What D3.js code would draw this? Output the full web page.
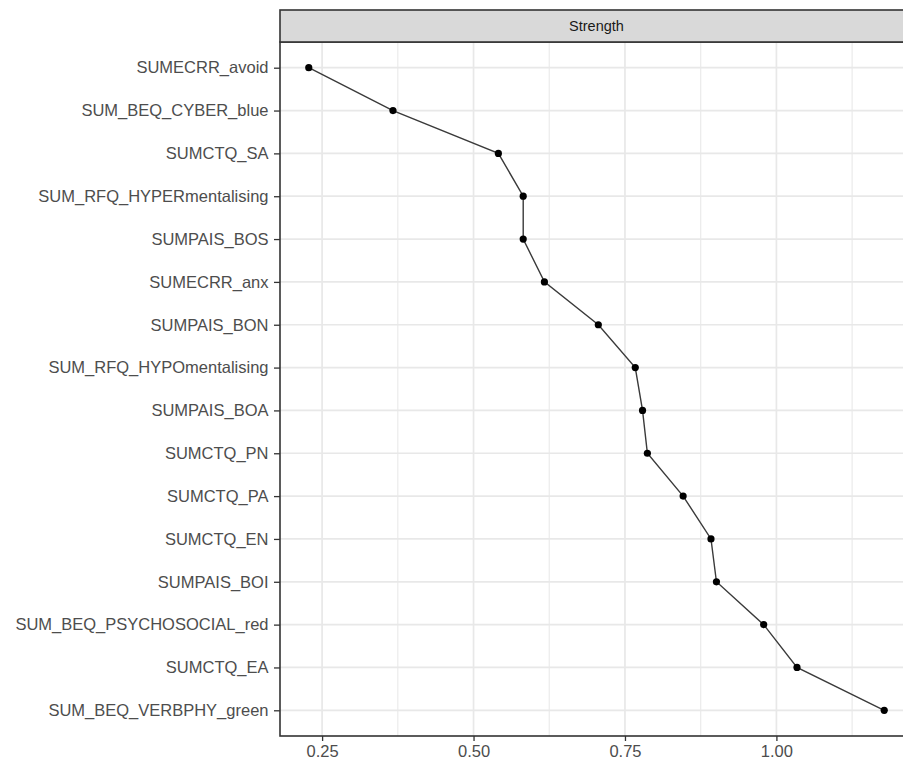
<!DOCTYPE html>
<html><head><meta charset="utf-8">
<script src="https://cdn.jsdelivr.net/npm/d3@7"></script>
<style>body{margin:0;background:#fff;} text{font-family:"Liberation Sans",Arial,sans-serif;}</style>
</head><body>
<svg id="chart" width="903" height="763"></svg>
<script>
const categories = ["SUMECRR_avoid","SUM_BEQ_CYBER_blue","SUMCTQ_SA","SUM_RFQ_HYPERmentalising","SUMPAIS_BOS","SUMECRR_anx","SUMPAIS_BON","SUM_RFQ_HYPOmentalising","SUMPAIS_BOA","SUMCTQ_PN","SUMCTQ_PA","SUMCTQ_EN","SUMPAIS_BOI","SUM_BEQ_PSYCHOSOCIAL_red","SUMCTQ_EA","SUM_BEQ_VERBPHY_green"];
const strength = [0.228,0.367,0.541,0.582,0.582,0.617,0.706,0.767,0.779,0.787,0.846,0.892,0.901,0.979,1.034,1.178];
const xTicks = [0.25,0.50,0.75,1.00];
const xMinor = [0.375,0.625,0.875,1.125];
const stripLabel = "Strength";

const svg = d3.select("#chart");
const L = 280, R = 913, T = 42, B = 736, stripTop = 10;
const ext = d3.extent(strength), pad = (ext[1]-ext[0])*0.05;
const x = d3.scaleLinear().domain([ext[0]-pad, ext[1]+pad]).range([L, R]);
const y = d3.scalePoint().domain(categories).range([T, B]).padding(0.6);

svg.append("rect").attr("x",L).attr("y",T).attr("width",R-L).attr("height",B-T).attr("fill","#fff");
svg.append("g").selectAll("line").data(xMinor).join("line")
  .attr("x1",d=>x(d)).attr("x2",d=>x(d)).attr("y1",T).attr("y2",B)
  .attr("stroke","#EBEBEB").attr("stroke-width",1.2);
svg.append("g").selectAll("line").data(xTicks).join("line")
  .attr("x1",d=>x(d)).attr("x2",d=>x(d)).attr("y1",T).attr("y2",B)
  .attr("stroke","#E8E8E8").attr("stroke-width",1.7);
svg.append("g").selectAll("line").data(categories).join("line")
  .attr("x1",L).attr("x2",R).attr("y1",d=>y(d)).attr("y2",d=>y(d))
  .attr("stroke","#E8E8E8").attr("stroke-width",1.7);

const pts = categories.map((c,i)=>({c, v: strength[i]}));
svg.append("path").datum(pts)
  .attr("d", d3.line().x(d=>x(d.v)).y(d=>y(d.c)))
  .attr("fill","none").attr("stroke","#3a3a3a").attr("stroke-width",1.4);
svg.append("g").selectAll("circle").data(pts).join("circle")
  .attr("cx",d=>x(d.v)).attr("cy",d=>y(d.c)).attr("r",3.6).attr("fill","#000");

svg.append("rect").attr("x",L).attr("y",T).attr("width",R-L).attr("height",B-T)
  .attr("fill","none").attr("stroke","#333").attr("stroke-width",1.6);

svg.append("rect").attr("x",L).attr("y",stripTop).attr("width",R-L).attr("height",T-stripTop)
  .attr("fill","#D9D9D9").attr("stroke","#333").attr("stroke-width",1.6);
svg.append("text").attr("x",(L+R)/2).attr("y",(stripTop+T)/2).attr("dy","0.35em")
  .attr("text-anchor","middle").attr("font-size","14.5px").attr("fill","#1A1A1A").text(stripLabel);

const xAxis = d3.axisBottom(x).tickValues(xTicks).tickFormat(d3.format(".2f")).tickSize(5).tickPadding(4);
const gx = svg.append("g").attr("transform",`translate(0,${B})`).call(xAxis);
gx.select(".domain").remove();
gx.selectAll(".tick line").attr("stroke","#333").attr("stroke-width",1.3);
gx.selectAll(".tick text").attr("fill","#4D4D4D").attr("font-size","16.5px")
  .style("font-family",'"Liberation Sans",Arial,sans-serif');

const yAxis = d3.axisLeft(y).tickSize(6).tickPadding(5.5);
const gy = svg.append("g").attr("transform",`translate(${L},0)`).call(yAxis);
gy.select(".domain").remove();
gy.selectAll(".tick line").attr("stroke","#333").attr("stroke-width",1.3);
gy.selectAll(".tick text").attr("fill","#4D4D4D").attr("font-size","16.5px")
  .style("font-family",'"Liberation Sans",Arial,sans-serif');
</script>
</body></html>
